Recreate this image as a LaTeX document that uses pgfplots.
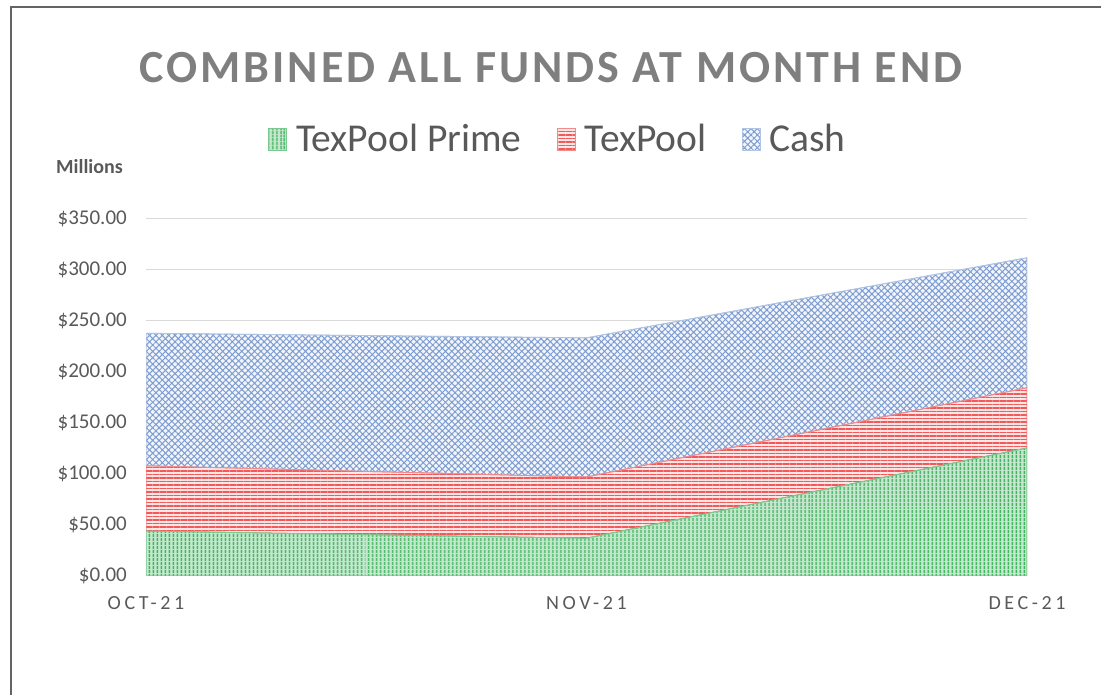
\documentclass[border=0pt]{standalone}
\usepackage{pgfplots}
\pgfplotsset{compat=1.18}
\usetikzlibrary{patterns.meta}
\usepackage{fontspec}
\setmainfont{Carlito}
\newfontfamily\titlefont[LetterSpace=6.5]{Carlito}
\newfontfamily\catfont[LetterSpace=18]{Carlito}
\definecolor{titlegray}{RGB}{127,127,127}
\definecolor{txtgray}{RGB}{89,89,89}
\definecolor{gridgray}{RGB}{217,217,217}
\definecolor{framegray}{RGB}{100,100,100}
\definecolor{pgreen}{RGB}{65,178,95}
\definecolor{pred}{RGB}{240,90,90}
\definecolor{pblue}{RGB}{125,157,210}
\begin{document}
\begin{tikzpicture}[x=1pt,y=1pt]
\useasboundingbox (0,0) rectangle (1101,695);
\draw[framegray, line width=1.6pt] (11,0) -- (11,688) -- (1101,688);
\node[anchor=base, inner sep=0pt, font=\titlefont\bfseries\fontsize{46}{50}\selectfont, text=titlegray] at (551,612) {COMBINED ALL FUNDS AT MONTH END};
\node[anchor=base west, inner sep=0pt, font=\bfseries\fontsize{20}{22}\selectfont, text=txtgray] at (56,521) {Millions};
\begin{axis}[
  at={(146pt,119pt)}, anchor=south west,
  scale only axis, width=881pt, height=357pt,
  xmin=0, xmax=2, ymin=0, ymax=350,
  stack plots=y,
  xtick={0,1,2}, xticklabels={OCT-21,NOV-21,DEC-21},
  ytick={0,50,100,150,200,250,300,350},
  yticklabels={\$0.00,\$50.00,\$100.00,\$150.00,\$200.00,\$250.00,\$300.00,\$350.00},
  ymajorgrids, grid style={gridgray, line width=1pt},
  axis lines*=left,
  y axis line style={draw=none},
  x axis line style={gridgray, line width=1pt},
  major tick length=0pt,
  xticklabel style={font=\catfont\fontsize{20}{22}\selectfont, text=txtgray, inner sep=0pt, anchor=north, yshift=-20pt},
  yticklabel style={font=\fontsize{21}{23}\selectfont, text=txtgray, inner sep=0pt, anchor=east, xshift=-19pt},
  legend columns=-1,
  legend style={at={(0.1385,1.224)}, anchor=west, draw=none, inner sep=0pt,
    font=\fontsize{39.5}{41}\selectfont, text=txtgray,
    nodes={inner sep=0pt},
    /tikz/every odd column/.append style={column sep=9pt},
    /tikz/every even column/.append style={column sep=35pt}},
  legend image code/.code={\draw[#1] (0pt,-11pt) rectangle (18pt,11pt);},
]
\addplot[draw=pgreen!70, line width=0.8pt, fill=pgreen!30,
  postaction={pattern={Lines[angle=90,distance=4pt,line width=1.8pt]}, pattern color=pgreen}]
  coordinates {(0,44) (1,37) (2,125.5)} \closedcycle;
\addlegendentry{TexPool Prime}
\addplot[draw=pred!70, line width=0.8pt, fill=pred!15,
  postaction={pattern={Lines[angle=0,distance=3.5pt,line width=1.1pt]}, pattern color=pred}]
  coordinates {(0,64) (1,60) (2,59)} \closedcycle;
\addlegendentry{TexPool}
\addplot[draw=pblue!60, line width=0.8pt, fill=pblue!10,
  postaction={pattern={Hatch[angle=45,distance=4.5pt,line width=1pt]}, pattern color=pblue}]
  coordinates {(0,130) (1,136.5) (2,127.5)} \closedcycle;
\addlegendentry{Cash}
\end{axis}
\end{tikzpicture}
\end{document}
